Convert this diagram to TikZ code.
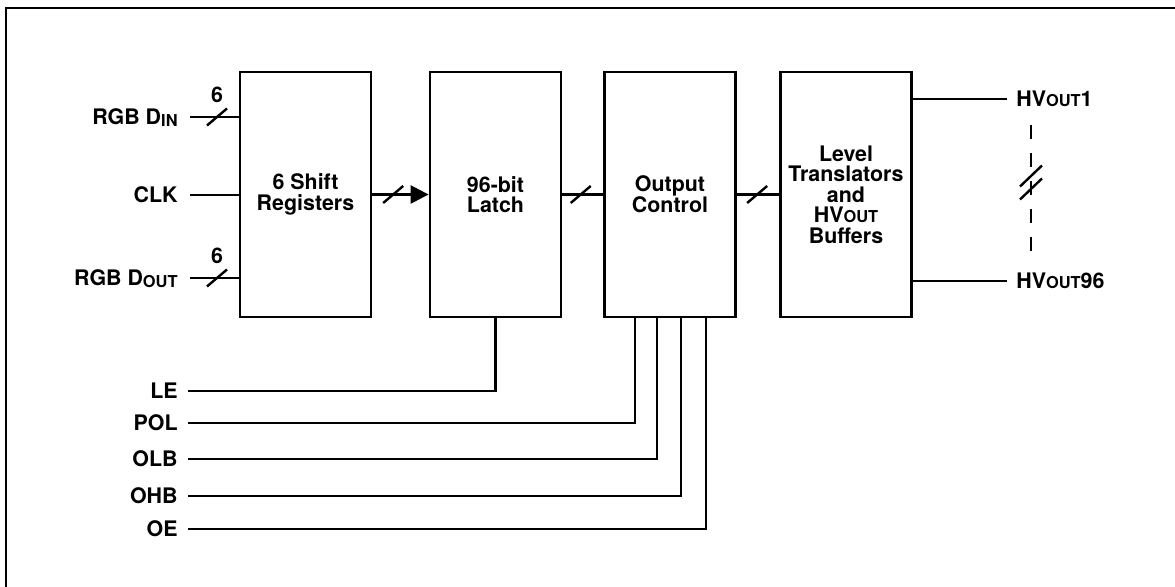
\documentclass[tikz,border=0pt]{standalone}
\usepackage{fontspec}
\setmainfont{TeX Gyre Heros}
\usetikzlibrary{arrows.meta,calc}
\newcommand{\smc}[1]{{\fontsize{8.2}{9}\selectfont #1}}
\newcommand{\lowsub}[1]{\raisebox{-1.2pt}{\fontsize{8.2}{9}\selectfont #1}}
\begin{document}
\begin{tikzpicture}[x=0.5pt,y=-0.5pt,
  every node/.style={font=\fontsize{10.7}{10.3}\selectfont\bfseries},
  blk/.style={draw, line width=1.4pt, minimum width=65.5pt, minimum height=122.5pt, inner sep=0pt, align=center},
  wire/.style={line width=1.25pt},
  lbl/.style={inner sep=0pt},
  busslash/.pic={\draw[line width=1.2pt] (-10,8.5) -- (10,-8.5);},
  dblslash/.pic={\draw[line width=1.2pt] (-11,4) -- (11,-17) (-11,17) -- (11,-4);},
]
\useasboundingbox (0,0) rectangle (1175,587);
% frame
\draw[line width=1pt] (6,587) -- (6,8.5) -- (1175,8.5);

% blocks
\node[blk] (sr) at (305.5,194.5) {6 Shift\\Registers};
\node[blk] (la) at (495.5,194.5) {96-bit\\Latch};
\node[blk] (oc) at (670,194.5) {Output\\Control};
\node[blk] (lt) at (846,194.5) {Level\\Translators\\and\\HV\smc{OUT}\\Buffers};

% inputs
\coordinate (din) at (190,117);
\coordinate (clk) at (190,195);
\coordinate (dout) at (190,278);
\node[lbl, anchor=base east] (ldin) at (178,124.5) {RGB D\lowsub{IN}};
\node[lbl, anchor=base east] (lclk) at (178,202.5) {CLK};
\node[lbl, anchor=base east] (ldout) at (178,285.5) {RGB D\lowsub{OUT}};
\draw[wire] (din) -- (din -| sr.west);
\draw[wire] (clk) -- (clk -| sr.west);
\draw[wire] (dout) -- (dout -| sr.west);
\pic at ($(din)+(27,0)$) {busslash};
\pic at ($(dout)+(27,0)$) {busslash};
\node[lbl] (six1) at (217,95) {6};
\node[lbl] (six2) at (217,256) {6};

% internal buses
\draw[wire,-{Triangle[length=9pt,width=9pt]}] (sr.east) -- (la.west);
\pic at ($(sr.east)!0.37!(la.west)$) {busslash};
\draw[wire] (la.east) -- (oc.west);
\pic at ($(la.east)!0.45!(oc.west)$) {busslash};
\draw[wire] (oc.east) -- (lt.west);
\pic at ($(oc.east)!0.48!(lt.west)$) {busslash};

% outputs
\coordinate (h1) at (1007,99);
\coordinate (h96) at (1007,281);
\draw[wire] (h1 -| lt.east) -- (h1);
\draw[wire] (h96 -| lt.east) -- (h96);
\node[lbl, anchor=base west] (lh1) at (1016,106.5) {HV\smc{OUT}1};
\node[lbl, anchor=base west] (lh96) at (1016,288.5) {HV\smc{OUT}96};
\coordinate (dtop) at (1031,125);
\coordinate (dbot) at (1031,252);
\draw[line width=0.9pt, dash pattern=on 7 off 7] (dtop) -- (dbot);
\pic at (1031,182.5) {dblslash};

% control lines
\coordinate (cle) at (188,391);
\coordinate (cpol) at (188,423);
\coordinate (colb) at (188,459);
\coordinate (cohb) at (188,496);
\coordinate (coe) at (188,529);
\node[lbl, anchor=base east] (lle) at (178,398.5) {LE};
\node[lbl, anchor=base east] (lpol) at (178,430.5) {POL};
\node[lbl, anchor=base east] (lolb) at (178,466.5) {OLB};
\node[lbl, anchor=base east] (lohb) at (178,503.5) {OHB};
\node[lbl, anchor=base east] (loe) at (178,536.5) {OE};
\draw[wire] (cle) -| (la.south);
\draw[wire] (cpol) -| ($(oc.south west)+(32,0)$);
\draw[wire] (colb) -| ($(oc.south west)+(54,0)$);
\draw[wire] (cohb) -| ($(oc.south west)+(78,0)$);
\draw[wire] (coe) -| ($(oc.south west)+(103,0)$);
\end{tikzpicture}
\end{document}
